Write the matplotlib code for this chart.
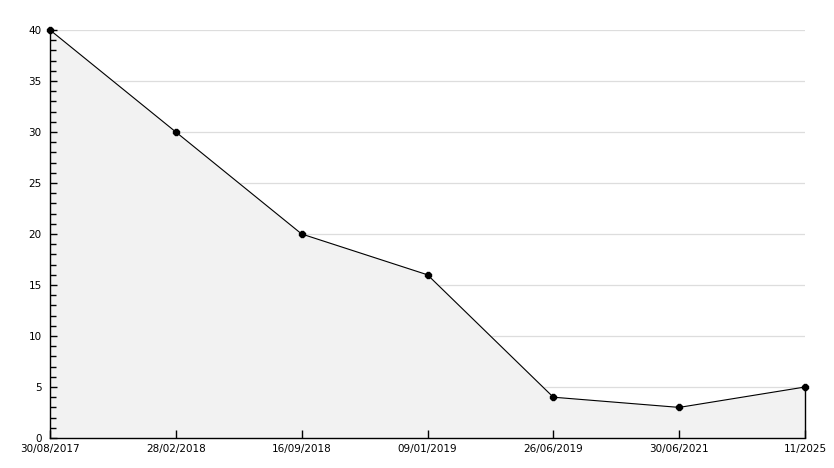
import numpy as np
import matplotlib
matplotlib.use("Agg")
import matplotlib.pyplot as plt
from matplotlib.ticker import MultipleLocator

dates = ["30/08/2017", "28/02/2018", "16/09/2018", "09/01/2019",
         "26/06/2019", "30/06/2021", "11/2025"]
values = [40, 30, 20, 16, 4, 3, 5]

x = np.arange(len(dates))

fig = plt.figure(figsize=(8.34, 4.68), dpi=100)
ax = fig.add_axes([50 / 834, 30 / 468, 755 / 834, 408 / 468])

# horizontal grid behind the filled area
for g in range(5, 45, 5):
    ax.axhline(g, color="#dddddd", lw=0.9, zorder=0)

ax.fill_between(x, values, 0, color="#f2f2f2", zorder=1)
ax.plot(x, values, color="black", lw=0.8, zorder=3, clip_on=False)
ax.plot(x, values, "8", color="black", markersize=5, zorder=4, clip_on=False)
ax.vlines(x[-1], 0, values[-1], color="black", lw=1.0, zorder=3, clip_on=False)

ax.set_xlim(0, len(dates) - 1)
ax.set_ylim(0, 40)
ax.set_xticks(x)
ax.set_xticklabels(dates)
ax.yaxis.set_major_locator(MultipleLocator(5))
ax.yaxis.set_minor_locator(MultipleLocator(1))
ax.set_axisbelow(False)

for s in ["top", "right"]:
    ax.spines[s].set_visible(False)
for s in ["left", "bottom"]:
    ax.spines[s].set_linewidth(1.0)

ax.tick_params(axis="y", which="major", direction="in", length=5, width=1, labelsize=7.5, pad=6)
ax.tick_params(axis="y", which="minor", direction="in", length=4, width=1)
ax.tick_params(axis="x", direction="in", length=6, width=1, labelsize=7.5, pad=4)

fig.savefig("out.png", dpi=100, facecolor="white")
